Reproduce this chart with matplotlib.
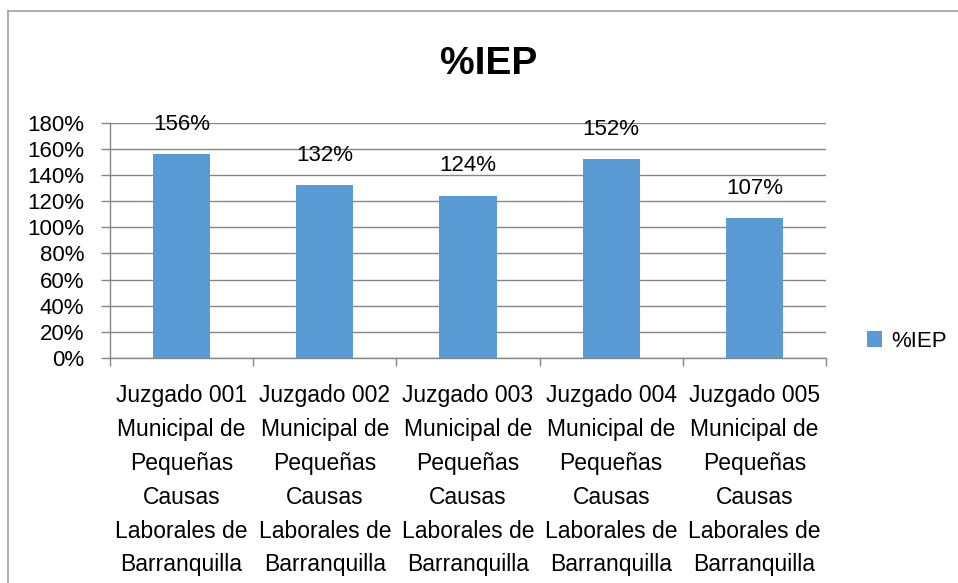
import numpy as np
import matplotlib
matplotlib.use('Agg')
from matplotlib import pyplot as plt
from matplotlib.lines import Line2D
from matplotlib.ticker import FuncFormatter, MultipleLocator

plt.rcParams['font.family'] = ['Liberation Sans', 'DejaVu Sans']

categories = [
    'Juzgado 001\nMunicipal de\nPequeñas\nCausas\nLaborales de\nBarranquilla',
    'Juzgado 002\nMunicipal de\nPequeñas\nCausas\nLaborales de\nBarranquilla',
    'Juzgado 003\nMunicipal de\nPequeñas\nCausas\nLaborales de\nBarranquilla',
    'Juzgado 004\nMunicipal de\nPequeñas\nCausas\nLaborales de\nBarranquilla',
    'Juzgado 005\nMunicipal de\nPequeñas\nCausas\nLaborales de\nBarranquilla',
]
iep = [1.56, 1.32, 1.24, 1.52, 1.07]
series_name = '%IEP'

grey = '#868686'
blue = '#5B9BD5'

fig = plt.figure(figsize=(9.58, 5.83), dpi=100)
ax = fig.add_axes([110 / 958, 1 - 358 / 583, 716 / 958, (358 - 122.7) / 583])

x = np.arange(len(categories))
bars = ax.bar(x, iep, width=0.4, color=blue, label=series_name, zorder=3)

for b, v in zip(bars, iep):
    ax.annotate('%d%%' % round(v * 100), (b.get_x() + b.get_width() / 2, v),
                xytext=(0, 14), textcoords='offset points',
                ha='center', va='bottom', fontsize=16)

ax.set_xlim(-0.5, len(categories) - 0.5)
ax.set_ylim(0, 1.8)
ax.yaxis.set_major_locator(MultipleLocator(0.2))
ax.yaxis.set_major_formatter(FuncFormatter(lambda v, p: '%d%%' % round(v * 100)))
ax.grid(axis='y', color=grey, linewidth=1, zorder=0)

ax.set_xticks(x)
ax.set_xticklabels(categories, fontsize=16.5, linespacing=1.6)
ax.set_xticks(np.arange(len(categories) + 1) - 0.5, minor=True)
ax.tick_params(axis='x', which='major', length=0, pad=19)
ax.tick_params(axis='x', which='minor', length=6, color=grey, width=1)
ax.tick_params(axis='y', length=6.5, color=grey, width=1, labelsize=16, pad=12)

for s in ['top', 'right']:
    ax.spines[s].set_visible(False)
for s in ['left', 'bottom']:
    ax.spines[s].set_color(grey)
    ax.spines[s].set_linewidth(1)

fig.suptitle('%IEP', x=489 / 958, y=1 - 46 / 583, fontsize=28, fontweight='bold', va='top')

ax.legend(loc='center left', bbox_to_anchor=(1.057, 0.072), frameon=False,
          fontsize=16, handlelength=0.7, handleheight=0.7, handletextpad=0.4,
          borderpad=0, borderaxespad=0)

# chart border (top and left edges visible)
fig.add_artist(Line2D([8 / 958, 8 / 958], [1 - 11 / 583, 0], color='#a0a0a0', lw=1.2))
fig.add_artist(Line2D([8 / 958, 1], [1 - 11 / 583, 1 - 11 / 583], color='#a0a0a0', lw=1.2))

fig.savefig('out.png', dpi=100)
